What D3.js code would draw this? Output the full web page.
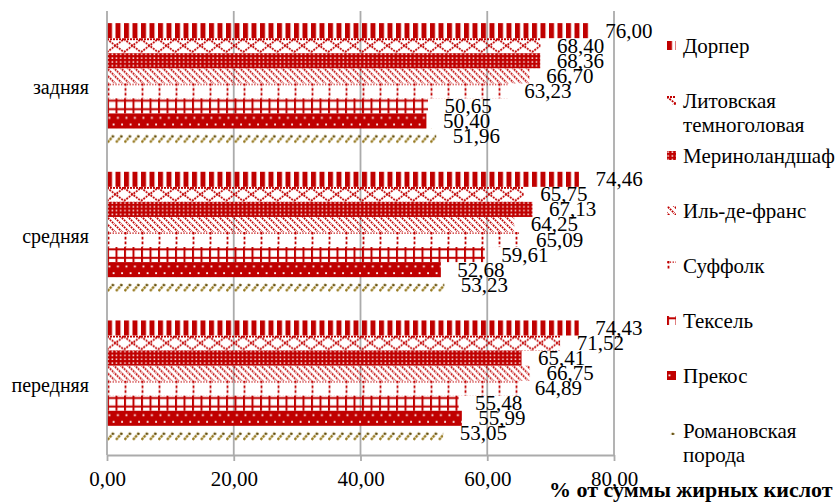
<!DOCTYPE html>
<html>
<head>
<meta charset="utf-8">
<script src="https://cdn.jsdelivr.net/npm/d3@7"></script>
<style>
  body { margin: 0; background: #fff; }
</style>
</head>
<body>
<script>
// data
const categories = ["задняя", "средняя", "передняя"];
const breeds = ["Дорпер", "Литовская темноголовая", "Мериноландшаф", "Иль-де-франс",
                "Суффолк", "Тексель", "Прекос", "Романовская порода"];
const legendLines = [["Дорпер"], ["Литовская", "темноголовая"], ["Мериноландшаф"], ["Иль-де-франс"],
                     ["Суффолк"], ["Тексель"], ["Прекос"], ["Романовская", "порода"]];
const zadnyaya  = [76.00, 68.40, 68.36, 66.70, 63.23, 50.65, 50.40, 51.96];
const srednyaya = [74.46, 65.75, 67.13, 64.25, 65.09, 59.61, 52.68, 53.23];
const perednyaya = [74.43, 71.52, 65.41, 66.75, 64.89, 55.48, 55.99, 53.05];
const xTicks = [0, 20, 40, 60, 80];
const axisTitle = "% от суммы жирных кислот";

const values = [zadnyaya, srednyaya, perednyaya];
const RED = "#c00000", OLIVE = "#94761a", GRID = "#ababab";
const SERIF = '"Liberation Serif"';

const width = 840, height = 504;
const fmt = d3.formatLocale({decimal: ",", thousands: " ", grouping: [3], currency: ["", ""]}).format(".2f");

const svg = d3.select("body").append("svg")
  .attr("width", width).attr("height", height);
const defs = svg.append("defs");

// scales
const x = d3.scaleLinear().domain([0, 80]).range([107, 614]);
const y0 = d3.scaleBand().domain(categories).range([9, 455])
  .paddingInner(0.19).paddingOuter(0.095);
const y1 = d3.scaleBand().domain(breeds).range([0, y0.bandwidth()]);

// pattern painters, one per breed (Excel-like fills)
const painters = [
  // Дорпер: wide vertical stripes
  p => { p.attr("width", 8.5).attr("height", 16);
         p.append("rect").attr("width", 5).attr("height", 16).attr("fill", RED); },
  // Литовская: dotted diamond lattice
  p => { p.attr("width", 17).attr("height", 15);
         p.append("path").attr("d", "M0,1L8.5,7.5L17,1M0,14L8.5,7.5L17,14M0,1H17")
          .attr("fill", "none").attr("stroke", RED).attr("stroke-width", 1.8)
          .attr("stroke-dasharray", "2,1"); },
  // Мериноландшаф: dense red with white holes
  p => { p.attr("width", 4.2).attr("height", 3.8);
         p.append("rect").attr("width", 4.2).attr("height", 3.8).attr("fill", RED);
         p.append("rect").attr("x", 0.4).attr("y", 0.4).attr("width", 1.5).attr("height", 1.4).attr("fill", "#fff"); },
  // Иль-де-франс: dashed down diagonals
  p => { p.attr("width", 7).attr("height", 7);
         p.append("path").attr("d", "M-1,-1L8,8M-1,6L1,8M6,-1L8,1")
          .attr("stroke", RED).attr("stroke-width", 1.8).attr("stroke-dasharray", "1.8,1"); },
  // Суффолк: sparse dashed verticals + dotted top line
  p => { p.attr("width", 17).attr("height", 15);
         p.append("path").attr("d", "M1.5,0V15").attr("stroke", RED).attr("stroke-width", 1.8)
          .attr("stroke-dasharray", "2.6,2.2");
         p.append("path").attr("d", "M0,1.2H17").attr("stroke", RED).attr("stroke-width", 1.3)
          .attr("stroke-dasharray", "1.3,1.5"); },
  // Тексель: grid
  p => { p.attr("width", 8.5).attr("height", 15);
         p.append("rect").attr("width", 2).attr("height", 15).attr("fill", RED);
         p.append("rect").attr("y", 1.3).attr("width", 8.5).attr("height", 2).attr("fill", RED);
         p.append("rect").attr("y", 9.8).attr("width", 8.5).attr("height", 2).attr("fill", RED); },
  // Прекос: red with white dots
  p => { p.attr("width", 8.5).attr("height", 15);
         p.append("rect").attr("width", 8.5).attr("height", 15).attr("fill", RED);
         p.append("rect").attr("x", 1.5).attr("y", 3.5).attr("width", 1.8).attr("height", 1.8).attr("fill", "#fff");
         p.append("rect").attr("x", 5.7).attr("y", 10.2).attr("width", 1.8).attr("height", 1.8).attr("fill", "#fff"); },
  // Романовская: olive short slashes
  p => { p.attr("width", 8.5).attr("height", 15);
         p.append("path").attr("d", "M0.5,14L6.5,7").attr("stroke", OLIVE).attr("stroke-width", 2.4)
          .attr("stroke-dasharray", "2.6,0.8");
         p.append("rect").attr("x", 5).attr("y", 7).attr("width", 2).attr("height", 2).attr("fill", "#5e4a10"); }
];

function makePattern(id, bi, px, py) {
  const p = defs.append("pattern").attr("id", id)
    .attr("patternUnits", "userSpaceOnUse").attr("x", px).attr("y", py);
  painters[bi](p);
  return `url(#${id})`;
}

// gridlines
svg.append("g").selectAll("line")
  .data(xTicks.filter(d => d > 0))
  .join("line")
  .attr("x1", d => x(d)).attr("x2", d => x(d))
  .attr("y1", 11).attr("y2", 455)
  .attr("stroke", GRID).attr("stroke-width", 1.8);

// bars
const bars = categories.flatMap((c, ci) => breeds.map((b, bi) => ({
  cat: c, breed: b, bi, ci, value: values[ci][bi]
})));

svg.append("g").selectAll("rect")
  .data(bars)
  .join("rect")
  .attr("x", x(0))
  .attr("y", d => y0(d.cat) + y1(d.breed))
  .attr("width", d => x(d.value) - x(0))
  .attr("height", y1.bandwidth())
  .attr("fill", d => makePattern(`p${d.ci}_${d.bi}`, d.bi, x(0), y0(d.cat) + y1(d.breed)));

// x axis
const xAxis = svg.append("g")
  .attr("transform", `translate(0,455)`)
  .call(d3.axisBottom(x).tickValues(xTicks).tickFormat(fmt).tickSize(6).tickSizeOuter(0).tickPadding(10));
xAxis.select(".domain").attr("stroke", GRID).attr("stroke-width", 1.8);
xAxis.selectAll(".tick line").attr("stroke", GRID).attr("stroke-width", 1.8);
xAxis.selectAll(".tick text")
  .attr("font-family", SERIF).attr("font-size", 21).attr("fill", "#000");

// y axis
const yAxis = svg.append("g")
  .attr("transform", `translate(${x(0)},0)`)
  .call(d3.axisLeft(y0).tickSize(0).tickPadding(18));
yAxis.select(".domain").attr("stroke", GRID).attr("stroke-width", 1.8)
  .attr("d", `M0,11V455`);
yAxis.selectAll(".tick text")
  .attr("font-family", SERIF).attr("font-size", 20).attr("fill", "#000")
  .attr("dy", "0.55em");

// value labels
svg.append("g").selectAll("text")
  .data(bars)
  .join("text")
  .attr("x", d => x(d.value) + 16.5)
  .attr("y", d => y0(d.cat) + y1(d.breed) + y1.bandwidth() / 2 + 7)
  .attr("font-family", SERIF)
  .attr("font-size", 21)
  .text(d => fmt(d.value));

// axis title
svg.append("text")
  .attr("x", 549).attr("y", 497)
  .attr("font-family", SERIF)
  .attr("font-size", 22).attr("font-weight", "bold")
  .text(axisTitle);

// legend
const ly = d3.scaleLinear().domain([0, breeds.length - 1]).range([53, 438]);
const legend = svg.append("g").selectAll("g")
  .data(breeds)
  .join("g");
legend.append("rect")
  .attr("x", 667).attr("y", (d, i) => ly(i) - 12)
  .attr("width", 9).attr("height", 9)
  .attr("fill", (d, i) => makePattern(`lg${i}`, i, 667, ly(i) - 12));
legend.append("text")
  .attr("x", 683).attr("y", (d, i) => ly(i))
  .attr("font-family", SERIF)
  .attr("font-size", 21)
  .selectAll("tspan")
  .data((d, i) => legendLines[i])
  .join("tspan")
  .attr("x", 683)
  .attr("dy", (d, j) => j === 0 ? 0 : 24)
  .text(d => d);
</script>
</body>
</html>
